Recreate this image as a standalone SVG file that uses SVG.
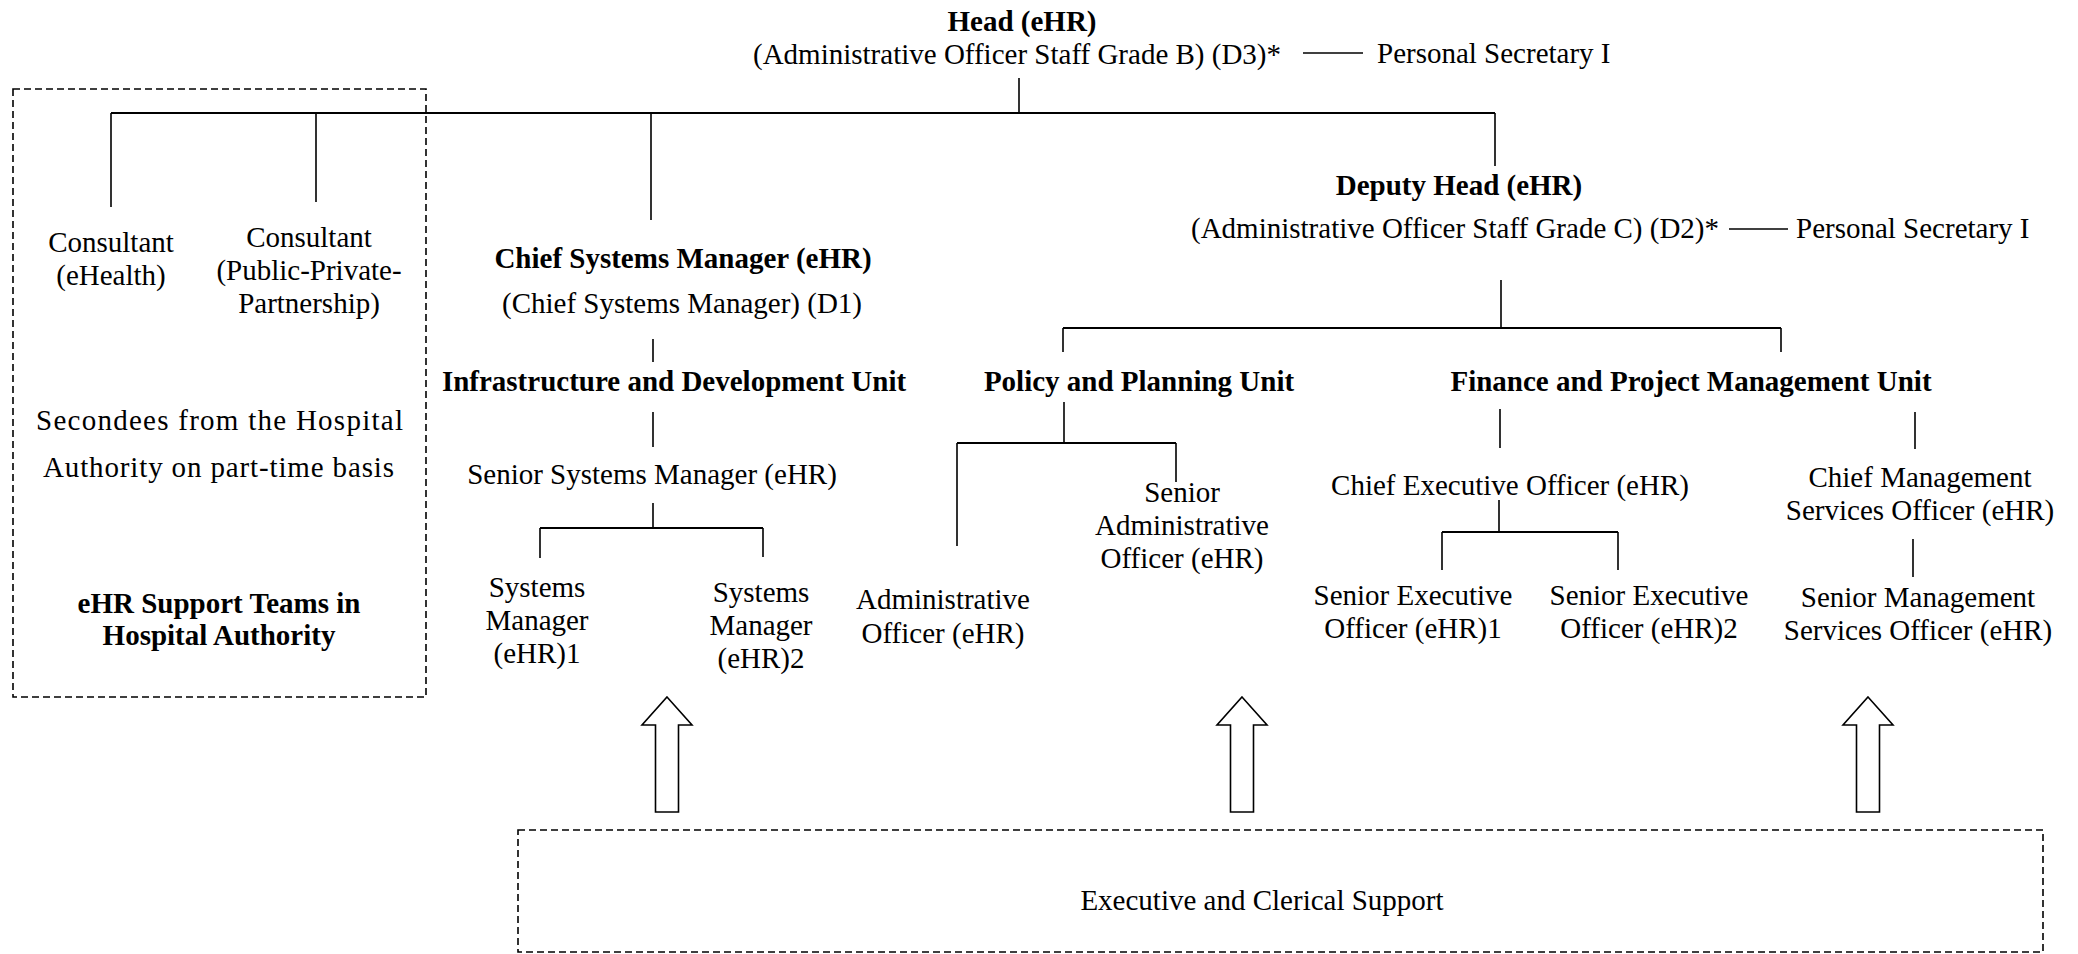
<svg xmlns="http://www.w3.org/2000/svg" width="2078" height="954" viewBox="0 0 2078 954">
<defs>
<style>
text{font-family:"Liberation Serif","Times New Roman",serif;font-size:29px;fill:#000}
.b{font-weight:bold}
.m{text-anchor:middle}
.ln{stroke:#000;stroke-width:1.6;fill:none}
.hl{stroke:#000;stroke-width:2.2;fill:none}
.dash{stroke:#000;stroke-width:1.6;fill:none;stroke-dasharray:7,4}
.arrow{fill:#fff;stroke:#000;stroke-width:1.6}
</style>
<polygon id="arr" points="0,0 25,28 11.5,28 11.5,115 -11.5,115 -11.5,28 -25,28"/>
</defs>
<rect width="2078" height="954" fill="#fff"/>

<g id="connectors">
<path class="ln" d="M1019,78V113"/>
<path class="hl" d="M111,113H1495"/>
<path class="ln" d="M111,113V207M316,113V202M651,113V220M1495,113V166"/>
<path class="ln" d="M1303,53H1363"/>
<path class="ln" d="M1729,229H1788"/>
<path class="ln" d="M1501,280V328"/>
<path class="hl" d="M1063,328H1781"/>
<path class="ln" d="M1063,328V352M1781,328V352"/>
<path class="ln" d="M653,339V362M653,412V447M653,503V528"/>
<path class="hl" d="M540,528H763"/>
<path class="ln" d="M540,528V558M763,528V557"/>
<path class="ln" d="M1064,402V443"/>
<path class="hl" d="M957,443H1176"/>
<path class="ln" d="M957,443V546M1176,443V482"/>
<path class="ln" d="M1500,409V448M1499,500V532"/>
<path class="hl" d="M1442,532H1618"/>
<path class="ln" d="M1442,532V570M1618,532V570"/>
<path class="ln" d="M1915,412V449M1913,539V577"/>
</g>

<g id="head">
<text class="b m" x="1022" y="31">Head (eHR)</text>
<text x="753" y="64">(Administrative Officer Staff Grade B) (D3)*</text>
</g>
<g id="ps1"><text x="1377" y="63">Personal Secretary I</text></g>

<g id="deputy">
<text class="b m" x="1459" y="195">Deputy Head (eHR)</text>
<text x="1191" y="238">(Administrative Officer Staff Grade C) (D2)*</text>
</g>
<g id="ps2"><text x="1796" y="238">Personal Secretary I</text></g>

<g id="ha-box">
<rect class="dash" x="13" y="89" width="413" height="608"/>
</g>
<g id="cons1">
<text class="m" x="111" y="252">Consultant</text>
<text class="m" x="111" y="285">(eHealth)</text>
</g>
<g id="cons2">
<text class="m" x="309" y="247">Consultant</text>
<text class="m" x="309" y="280">(Public-Private-</text>
<text class="m" x="309" y="313">Partnership)</text>
</g>
<g id="secondees">
<text x="36" y="430" font-size="31" textLength="367" lengthAdjust="spacing">Secondees from the Hospital</text>
<text x="43" y="477" font-size="31" textLength="351" lengthAdjust="spacing">Authority on part-time basis</text>
</g>
<g id="support-teams">
<text class="b m" x="219" y="613">eHR Support Teams in</text>
<text class="b m" x="219" y="645">Hospital Authority</text>
</g>

<g id="csm">
<text class="b m" x="683" y="268">Chief Systems Manager (eHR)</text>
<text class="m" x="682" y="313">(Chief Systems Manager) (D1)</text>
</g>
<g id="idu"><text class="b m" x="674" y="391">Infrastructure and Development Unit</text></g>
<g id="ssm"><text class="m" x="652" y="484">Senior Systems Manager (eHR)</text></g>
<g id="sm1">
<text class="m" x="537" y="597">Systems</text>
<text class="m" x="537" y="630">Manager</text>
<text class="m" x="537" y="663">(eHR)1</text>
</g>
<g id="sm2">
<text class="m" x="761" y="602">Systems</text>
<text class="m" x="761" y="635">Manager</text>
<text class="m" x="761" y="668">(eHR)2</text>
</g>

<g id="ppu"><text class="b m" x="1139" y="391">Policy and Planning Unit</text></g>
<g id="ao">
<text class="m" x="943" y="609">Administrative</text>
<text class="m" x="943" y="643">Officer (eHR)</text>
</g>
<g id="sao">
<text class="m" x="1182" y="502">Senior</text>
<text class="m" x="1182" y="535">Administrative</text>
<text class="m" x="1182" y="568">Officer (eHR)</text>
</g>

<g id="fpmu"><text class="b m" x="1691" y="391">Finance and Project Management Unit</text></g>
<g id="ceo"><text class="m" x="1510" y="495">Chief Executive Officer (eHR)</text></g>
<g id="seo1">
<text class="m" x="1413" y="605">Senior Executive</text>
<text class="m" x="1413" y="638">Officer (eHR)1</text>
</g>
<g id="seo2">
<text class="m" x="1649" y="605">Senior Executive</text>
<text class="m" x="1649" y="638">Officer (eHR)2</text>
</g>
<g id="cmso">
<text class="m" x="1920" y="487">Chief Management</text>
<text class="m" x="1920" y="520">Services Officer (eHR)</text>
</g>
<g id="smso">
<text class="m" x="1918" y="607">Senior Management</text>
<text class="m" x="1918" y="640">Services Officer (eHR)</text>
</g>

<g id="arrows">
<use href="#arr" class="arrow" x="667" y="697"/>
<use href="#arr" class="arrow" x="1242" y="697"/>
<use href="#arr" class="arrow" x="1868" y="697"/>
</g>

<g id="support">
<rect class="dash" x="518" y="830" width="1525" height="122"/>
<text class="m" x="1262" y="910">Executive and Clerical Support</text>
</g>
</svg>
